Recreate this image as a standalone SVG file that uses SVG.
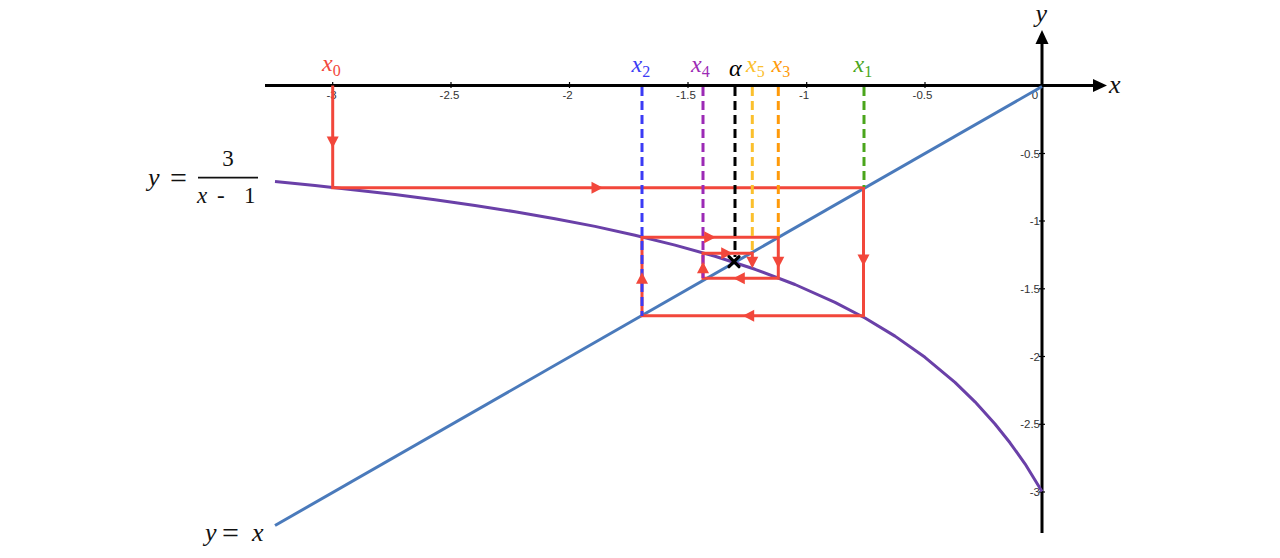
<svg xmlns="http://www.w3.org/2000/svg" width="1280" height="558" viewBox="0 0 1280 558">
<style>
.axis{stroke:#000;stroke-width:3;fill:none}
.tick{stroke:#000;stroke-width:1.2}
.tl{font-family:"Liberation Sans",Arial,sans-serif;font-size:11.5px;fill:#333}
.tlx{text-anchor:middle}
.tly{text-anchor:end}
.web{stroke:#f2473b;stroke-width:3;fill:none;stroke-linecap:square}
.arr{fill:#f2473b}
.dash{stroke-width:3;fill:none;stroke-dasharray:9 5}
.lab{font-family:"Liberation Serif","Times New Roman",serif;font-style:italic;font-size:24px}
.sub{font-family:"Liberation Serif","Times New Roman",serif;font-style:normal;font-size:16px}
.eq{font-family:"Liberation Serif","Times New Roman",serif;font-size:26px;fill:#111}
.it{font-style:italic}
.big{font-size:30px}
</style>
<rect width="1280" height="558" fill="#fff"/>
<g id="axes">
<line class="axis" x1="265" y1="85.5" x2="1095" y2="85.5"/>
<polygon points="1107,85.5 1093,79 1093,92" fill="#000"/>
<line class="axis" x1="1042" y1="533" x2="1042" y2="42"/>
<polygon points="1042,30 1035.5,44 1048.5,44" fill="#000"/>
<g class="tick">
<line x1="332.7" y1="82" x2="332.7" y2="88"/>
<line x1="451" y1="82" x2="451" y2="88"/>
<line x1="569.5" y1="82" x2="569.5" y2="88"/>
<line x1="688" y1="82" x2="688" y2="88"/>
<line x1="806.7" y1="82" x2="806.7" y2="88"/>
<line x1="925" y1="82" x2="925" y2="88"/>
<line x1="1039" y1="153.5" x2="1045" y2="153.5"/>
<line x1="1039" y1="221" x2="1045" y2="221"/>
<line x1="1039" y1="288.8" x2="1045" y2="288.8"/>
<line x1="1039" y1="356.5" x2="1045" y2="356.5"/>
<line x1="1039" y1="424.3" x2="1045" y2="424.3"/>
<line x1="1039" y1="492" x2="1045" y2="492"/>
</g>
<g class="tl tlx">
<text x="331.5" y="99">-3</text>
<text x="449.5" y="99">-2.5</text>
<text x="567.5" y="99">-2</text>
<text x="686" y="99">-1.5</text>
<text x="804" y="99">-1</text>
<text x="922.5" y="99">-0.5</text>
<text x="1035" y="99">0</text>
</g>
<g class="tl tly">
<text x="1040" y="157.5">-0.5</text>
<text x="1040" y="225">-1</text>
<text x="1040" y="292.8">-1.5</text>
<text x="1040" y="360.5">-2</text>
<text x="1040" y="428.3">-2.5</text>
<text x="1040" y="496">-3</text>
</g>
<text class="eq it" x="1035.5" y="22" font-size="21">y</text>
<text class="eq it" x="1109" y="93" font-size="26">x</text>
</g>
<g id="curve-line">
<line x1="275" y1="525.5" x2="1042" y2="86.5" stroke="#4a7abb" stroke-width="3"/>
</g>
<g id="curve-hyperbola">
<polyline fill="none" stroke="#6a40a8" stroke-width="3" stroke-linejoin="round" points="275,181.6 315,185.6 355,189.9 395,194.6 435,199.8 475,205.5 515,211.7 555,218.7 595,226.4 635,235.2 675,245.1 715,256.3 755,269.3 795,284.5 835,302.4 865,318 895,336.1 925,357.3 955,382.4 975,401.8 995,424 1010,442.8 1025,463.8 1042,491.5"/>
</g>
<g id="connectors">
<polyline class="web" points="332.7,87 332.7,187.7 863.5,187.7 863.5,315.7 642,315.7 642,237.3 778.3,237.3 778.3,278.3 703,278.3 703,253.3 752.3,253.3 752.3,264"/>
</g>
<g id="guides">
<line class="dash" stroke="#3b3bf5" x1="642" y1="87" x2="642" y2="316"/>
<line class="dash" stroke="#9c2ab5" x1="703" y1="87" x2="703" y2="278"/>
<line class="dash" stroke="#000" x1="735" y1="87" x2="735" y2="257"/>
<line class="dash" stroke="#fbc02d" x1="752.3" y1="87" x2="752.3" y2="253"/>
<line class="dash" stroke="#ff9a0a" x1="778.3" y1="87" x2="778.3" y2="237"/>
<line class="dash" stroke="#4aa51c" x1="864" y1="87" x2="864" y2="187"/>
</g>
<g id="arrows" class="arr">
<polygon points="332.7,148 326.7,136.5 338.7,136.5"/>
<polygon points="603,187.7 591.5,181.7 591.5,193.7"/>
<polygon points="863.5,266 857.5,254.5 869.5,254.5"/>
<polygon points="742.7,315.7 754.2,309.7 754.2,321.7"/>
<polygon points="642,272.3 636,283.8 648,283.8"/>
<polygon points="715.7,237.3 704.2,231.3 704.2,243.3"/>
<polygon points="778.3,268.3 772.3,256.8 784.3,256.8"/>
<polygon points="733.3,278.3 744.8,272.3 744.8,284.3"/>
<polygon points="703,261.7 697,273.2 709,273.2"/>
<polygon points="732.7,253.3 721.2,247.3 721.2,259.3"/>
<polygon points="752.3,268.3 746.3,256.8 758.3,256.8"/>
</g>
<g id="alpha-point">
<path d="M729,256.7 L739,266.7 M739,256.7 L729,266.7" stroke="#000" stroke-width="3.2" stroke-linecap="round"/>
</g>
<g id="labels" class="lab">
<text x="322" y="71" fill="#f2473b">x<tspan class="sub" dy="5">0</tspan></text>
<text x="631.5" y="71.5" fill="#3b3bf5">x<tspan class="sub" dy="5">2</tspan></text>
<text x="691" y="71.5" fill="#9c2ab5">x<tspan class="sub" dy="5">4</tspan></text>
<text x="729" y="76" fill="#000">α</text>
<text x="746" y="71.5" fill="#fbc02d">x<tspan class="sub" dy="5">5</tspan></text>
<text x="771.5" y="71.5" fill="#ff9a0a">x<tspan class="sub" dy="5">3</tspan></text>
<text x="853.5" y="71.5" fill="#4aa51c">x<tspan class="sub" dy="5">1</tspan></text>
</g>
<g id="eq-hyperbola" class="eq">
<text x="148" y="186" class="it">y</text>
<text x="170" y="188" class="big">=</text>
<line x1="198" y1="177.7" x2="258" y2="177.7" stroke="#111" stroke-width="1.8"/>
<text x="228" y="166" text-anchor="middle" font-size="23">3</text>
<text x="197" y="203" font-size="23"><tspan class="it">x</tspan><tspan x="217">-</tspan><tspan x="244">1</tspan></text>
</g>
<g id="eq-line" class="eq">
<text x="205" y="541" class="it">y</text>
<text x="222" y="543" class="big">=</text>
<text x="252" y="541" class="it">x</text>
</g>
</svg>
